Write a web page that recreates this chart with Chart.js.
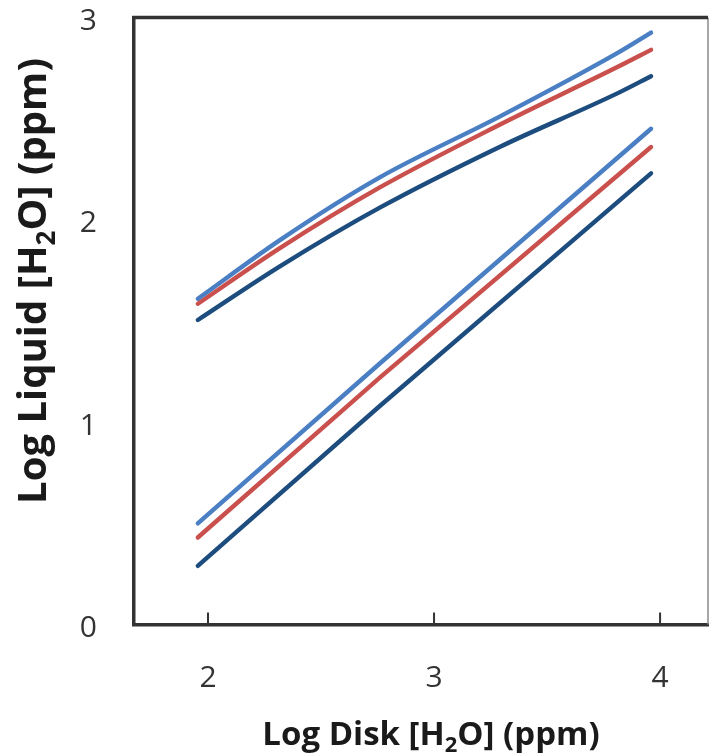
<!DOCTYPE html>
<html>
<head>
<meta charset="utf-8">
<script src="https://cdn.jsdelivr.net/npm/chart.js@4.4.1/dist/chart.umd.min.js"></script>
<style>
  html, body { margin: 0; padding: 0; background: #ffffff; }
  #wrap { width: 711px; height: 756px; }
</style>
</head>
<body>
<div id="wrap"><canvas id="c" width="711" height="756"></canvas></div>
<script>
// ---- data ----
const xTickValues = [2, 3, 4];
const yTickValues = [0, 1, 2, 3];

const upperX      = [1.955, 2.318, 2.76, 3.29, 3.82, 3.96];
const upperLight  = [1.61, 1.90, 2.21, 2.51, 2.83, 2.925];
const upperRed    = [1.585, 1.86, 2.16, 2.47, 2.76, 2.84];
const upperDark   = [1.505, 1.77, 2.06, 2.36, 2.63, 2.71];

const lowerX      = [1.955, 2.76, 3.96];
const lowerLight  = [0.50, 1.29, 2.45];
const lowerRed    = [0.43, 1.22, 2.36];
const lowerDark   = [0.29, 1.08, 2.23];

const xTitleParts = ["Log Disk [H", "2", "O] (ppm)"];
const yTitleParts = ["Log Liquid [H", "2", "O] (ppm)"];

const LIGHT = '#4a7fc4', RED = '#c9504d', DARK = '#1d4c7e';

function pts(xs, ys) { return xs.map((x, i) => ({ x: x, y: ys[i] })); }
function ds(label, xs, ys, color, curved) {
  return {
    label: label, data: pts(xs, ys), borderColor: color, backgroundColor: color,
    borderWidth: 4.4, pointRadius: 0, fill: false,
    borderCapStyle: 'round', borderJoinStyle: 'round',
    cubicInterpolationMode: curved ? 'monotone' : 'default', tension: curved ? 0.4 : 0
  };
}

function drawSubText(ctx, parts, size, x, y) {
  const big = 'bold ' + size + 'px "Open Sans"';
  const small = 'bold ' + Math.round(size * 0.66) + 'px "Open Sans"';
  ctx.font = big; const w0 = ctx.measureText(parts[0]).width;
  ctx.font = small; const w1 = ctx.measureText(parts[1]).width;
  ctx.font = big; const w2 = ctx.measureText(parts[2]).width;
  const total = w0 + w1 + w2;
  let sx = x - total / 2;
  ctx.textBaseline = 'alphabetic';
  ctx.textAlign = 'left';
  ctx.font = big; ctx.fillText(parts[0], sx, y);
  ctx.font = small; ctx.fillText(parts[1], sx + w0, y + size * 0.22);
  ctx.font = big; ctx.fillText(parts[2], sx + w0 + w1, y);
}

const framePlugin = {
  id: 'frame',
  beforeDraw(chart) {
    const ctx = chart.ctx;
    ctx.save(); ctx.fillStyle = '#ffffff'; ctx.fillRect(0, 0, chart.width, chart.height); ctx.restore();
  },
  afterDraw(chart) {
    const ctx = chart.ctx, a = chart.chartArea, xs = chart.scales.x;
    ctx.save();
    // right border (thin, grey)
    ctx.strokeStyle = '#8a8a8a'; ctx.lineWidth = 1.5;
    ctx.beginPath(); ctx.moveTo(a.right, a.top); ctx.lineTo(a.right, a.bottom); ctx.stroke();
    // top border (thick)
    ctx.strokeStyle = '#333333'; ctx.lineWidth = 3.5;
    ctx.beginPath(); ctx.moveTo(a.left - 1.75, a.top); ctx.lineTo(a.right, a.top); ctx.stroke();
    // x tick marks pointing inward
    ctx.lineWidth = 2;
    xTickValues.forEach(v => {
      const px = xs.getPixelForValue(v);
      ctx.beginPath(); ctx.moveTo(px, a.bottom); ctx.lineTo(px, a.bottom - 12); ctx.stroke();
    });
    // axis titles
    ctx.fillStyle = '#1a1a1a';
    drawSubText(ctx, xTitleParts, 33, 431, 745);
    ctx.translate(46, 281);
    ctx.rotate(-Math.PI / 2);
    drawSubText(ctx, yTitleParts, 40, 0, 0);
    ctx.restore();
  }
};

new Chart(document.getElementById('c'), {
  type: 'line',
  data: {
    datasets: [
      ds('Upper light', upperX, upperLight, LIGHT, true),
      ds('Upper red', upperX, upperRed, RED, true),
      ds('Upper dark', upperX, upperDark, DARK, true),
      ds('Lower light', lowerX, lowerLight, LIGHT, false),
      ds('Lower red', lowerX, lowerRed, RED, false),
      ds('Lower dark', lowerX, lowerDark, DARK, false)
    ]
  },
  options: {
    responsive: false,
    animation: false,
    layout: { padding: { left: 0, top: 17.5, right: 3, bottom: 0 } },
    plugins: { legend: { display: false }, tooltip: { enabled: false } },
    scales: {
      x: {
        type: 'linear', min: 1.6726, max: 4.212,
        afterBuildTicks: s => { s.ticks = xTickValues.map(v => ({ value: v })); },
        afterFit: s => { s.height = 131.5; s.paddingLeft = 0; s.paddingRight = 0; },
        grid: { display: false, drawTicks: false },
        border: { display: true, color: '#333333', width: 3.5 },
        ticks: { font: { family: '"Open Sans"', size: 30 }, color: '#333333', padding: 36, maxRotation: 0 },
        title: { display: false }
      },
      y: {
        type: 'linear', min: 0, max: 3,
        afterBuildTicks: s => { s.ticks = yTickValues.map(v => ({ value: v })); },
        afterFit: s => { s.width = 134; s.paddingTop = 0; s.paddingBottom = 0; },
        grid: { display: false, drawTicks: false },
        border: { display: true, color: '#333333', width: 3.5 },
        ticks: { font: { family: '"Open Sans"', size: 30 }, color: '#333333', padding: 37, labelOffset: 4 },
        title: { display: false }
      }
    }
  },
  plugins: [framePlugin]
});
</script>
</body>
</html>
